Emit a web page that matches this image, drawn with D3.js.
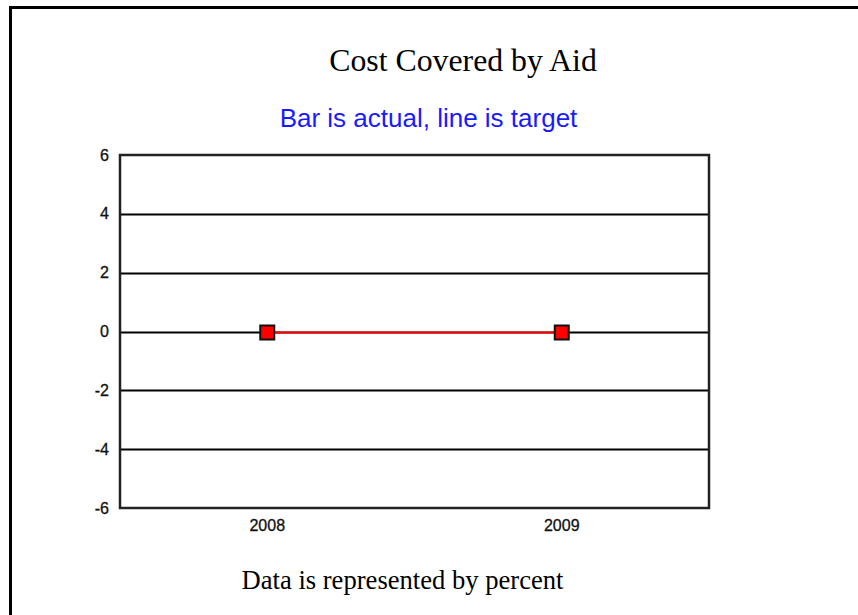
<!DOCTYPE html>
<html>
<head>
<meta charset="utf-8">
<script src="https://cdn.jsdelivr.net/npm/d3@7/dist/d3.min.js"></script>
<style>
  html, body { margin: 0; padding: 0; background: #fff; }
  svg { display: block; }
</style>
</head>
<body>
<svg id="chart" width="858" height="615"></svg>
<script>
const categories = ["2008", "2009"];
const actualValues = [0, 0];
const targetValues = [0, 0];
const yTicks = [-6, -4, -2, 0, 2, 4, 6];
const titleText = "Cost Covered by Aid";
const subtitleText = "Bar is actual, line is target";
const footerText = "Data is represented by percent";

const svg = d3.select("#chart");
const W = 858, H = 615;
const plot = { left: 120, right: 709, top: 155, bottom: 508 };

// outer border (top and left)
svg.append("line").attr("x1", 10.5).attr("x2", W).attr("y1", 7.5).attr("y2", 7.5)
  .attr("stroke", "#000").attr("stroke-width", 3);
svg.append("line").attr("x1", 10.5).attr("x2", 10.5).attr("y1", 6).attr("y2", H)
  .attr("stroke", "#000").attr("stroke-width", 3);

const x = d3.scaleBand().domain(categories).range([plot.left, plot.right]).padding(0);
const y = d3.scaleLinear().domain([-6, 6]).range([plot.bottom, plot.top]);
const py = v => Math.round(y(v)) + 0.5;

// titles
svg.append("text").attr("x", 463).attr("y", 71).attr("text-anchor", "middle")
  .attr("font-family", "'Liberation Serif', 'Times New Roman', serif")
  .attr("font-size", 31.8).attr("fill", "#000").text(titleText);
svg.append("text").attr("x", 428.5).attr("y", 127).attr("text-anchor", "middle")
  .attr("font-family", "'Liberation Sans', Arial, sans-serif")
  .attr("font-size", 26).attr("fill", "#1a1aff").text(subtitleText);
svg.append("text").attr("x", 402.5).attr("y", 589).attr("text-anchor", "middle")
  .attr("font-family", "'Liberation Serif', 'Times New Roman', serif")
  .attr("font-size", 26.6).attr("fill", "#000").text(footerText);

// gridlines
svg.append("g").selectAll("line").data(yTicks.filter(t => t !== 6 && t !== -6)).join("line")
  .attr("x1", plot.left).attr("x2", plot.right)
  .attr("y1", d => py(d)).attr("y2", d => py(d))
  .attr("stroke", "#000").attr("stroke-width", 2);

// y axis labels
const yAxis = d3.axisLeft(y).tickValues(yTicks).tickSize(0).tickPadding(11).tickFormat(d => String(d));
const gy = svg.append("g").attr("transform", `translate(${plot.left},0)`).call(yAxis);
gy.select(".domain").remove();
gy.selectAll("text").attr("font-family", "'Liberation Sans', Arial, sans-serif")
  .attr("font-size", 16).attr("fill", "#111").attr("stroke", "#111").attr("stroke-width", 0.3);

// x axis labels
const xAxis = d3.axisBottom(x).tickSize(0).tickPadding(12);
const gx = svg.append("g").attr("transform", `translate(0,${plot.bottom})`).call(xAxis);
gx.select(".domain").remove();
gx.selectAll("text").attr("font-family", "'Liberation Sans', Arial, sans-serif")
  .attr("font-size", 16).attr("fill", "#111").attr("stroke", "#111").attr("stroke-width", 0.3);

// plot frame
svg.append("rect").attr("x", plot.left).attr("y", plot.top)
  .attr("width", plot.right - plot.left).attr("height", plot.bottom - plot.top)
  .attr("fill", "none").attr("stroke", "#222").attr("stroke-width", 2.5);

// actual bars (zero height)
const bw = x.bandwidth() * 0.5;
svg.append("g").selectAll("rect").data(actualValues).join("rect")
  .attr("x", (d, i) => x(categories[i]) + x.bandwidth() / 2 - bw / 2)
  .attr("y", d => Math.min(y(d), y(0)))
  .attr("width", bw)
  .attr("height", d => Math.abs(y(d) - y(0)))
  .attr("fill", "#3366cc");

// target line
const line = d3.line().x((d, i) => x(categories[i]) + x.bandwidth() / 2).y(d => py(d));
svg.append("path").datum(targetValues).attr("d", line)
  .attr("fill", "none").attr("stroke", "#ff0000").attr("stroke-width", 2);

// markers
const ms = 14;
svg.append("g").selectAll("rect").data(targetValues).join("rect")
  .attr("x", (d, i) => x(categories[i]) + x.bandwidth() / 2 - ms / 2)
  .attr("y", d => py(d) - ms / 2)
  .attr("width", ms).attr("height", ms)
  .attr("fill", "#ff0000").attr("stroke", "#111").attr("stroke-width", 2);
</script>
</body>
</html>
